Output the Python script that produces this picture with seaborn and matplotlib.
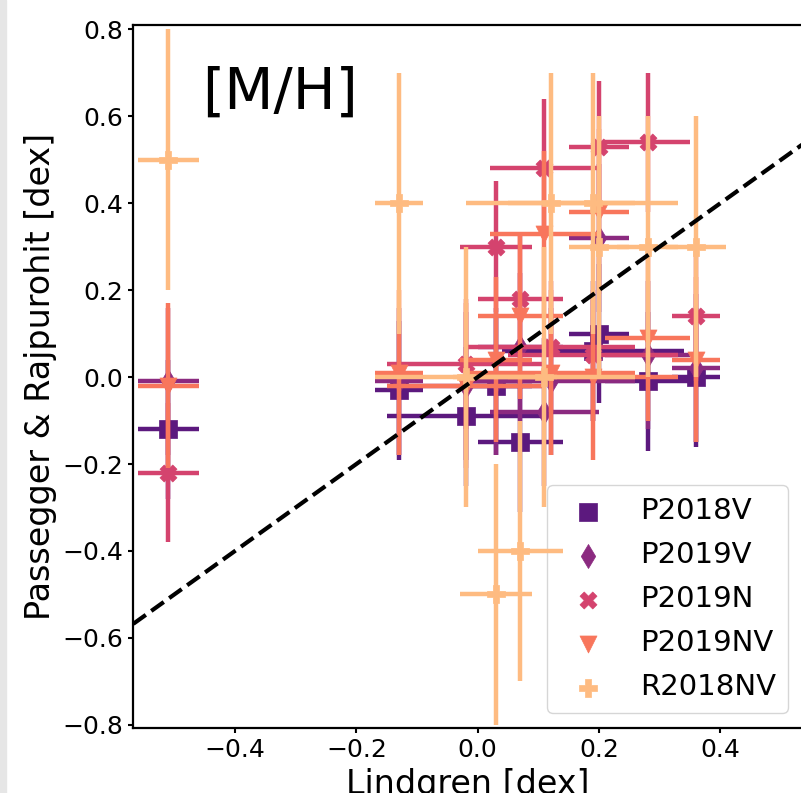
import numpy as np
import pandas as pd
import matplotlib
matplotlib.use("Agg")
import matplotlib.pyplot as plt
import seaborn as sns
from matplotlib.patches import Rectangle

# ==========================
# Data (Lindgren vs Passegger & Rajpurohit, [M/H])
# ==========================

series_names = ["P2018V", "P2019V", "P2019N", "P2019NV", "R2018NV"]
series_markers = ["s", "d", "X", "v", "P"]
series_colors = ["#5c197e", "#8b2a80", "#d4436e", "#f8765c", "#febb81"]

p2018v_x = [-0.51, -0.13, -0.02, 0.03, 0.07, 0.19, 0.20, 0.28, 0.36]
p2018v_y = [-0.12, -0.03, -0.09, -0.02, -0.15, 0.06, 0.10, -0.01, 0.00]
p2018v_xerr = [0.05, 0.04, 0.13, 0.06, 0.07, 0.15, 0.05, 0.07, 0.04]
p2018v_yerr = [0.16, 0.16, 0.16, 0.16, 0.16, 0.16, 0.16, 0.16, 0.16]

p2019v_x = [-0.51, -0.13, -0.02, 0.03, 0.07, 0.11, 0.12, 0.20, 0.28, 0.36]
p2019v_y = [-0.01, -0.01, -0.02, -0.01, 0.07, -0.08, -0.01, 0.32, 0.05, 0.02]
p2019v_xerr = [0.05, 0.04, 0.13, 0.06, 0.07, 0.09, 0.14, 0.05, 0.07, 0.04]
p2019v_yerr = [0.17, 0.17, 0.17, 0.17, 0.17, 0.17, 0.17, 0.17, 0.17, 0.17]

p2019n_x = [-0.51, -0.02, 0.03, 0.07, 0.11, 0.12, 0.19, 0.20, 0.28, 0.36]
p2019n_y = [-0.22, 0.03, 0.30, 0.18, 0.48, 0.07, 0.05, 0.53, 0.54, 0.14]
p2019n_xerr = [0.05, 0.13, 0.06, 0.07, 0.09, 0.14, 0.14, 0.05, 0.07, 0.04]
p2019n_yerr = [0.16, 0.15, 0.15, 0.15, 0.16, 0.15, 0.15, 0.15, 0.16, 0.15]

p2019nv_x = [-0.51, -0.13, -0.02, 0.03, 0.07, 0.11, 0.12, 0.19, 0.20, 0.28, 0.36]
p2019nv_y = [-0.02, 0.01, -0.02, 0.04, 0.14, 0.33, 0.01, 0.00, 0.38, 0.09, 0.04]
p2019nv_xerr = [0.05, 0.04, 0.13, 0.06, 0.07, 0.09, 0.14, 0.14, 0.05, 0.07, 0.04]
p2019nv_yerr = [0.19, 0.19, 0.19, 0.19, 0.19, 0.19, 0.19, 0.19, 0.19, 0.19, 0.19]

r2018nv_x = [-0.51, -0.13, -0.02, 0.03, 0.07, 0.11, 0.12, 0.19, 0.20, 0.28, 0.36]
r2018nv_y = [0.50, 0.40, 0.00, -0.50, -0.40, 0.00, 0.40, 0.40, 0.30, 0.30, 0.30]
r2018nv_xerr = [0.05, 0.04, 0.15, 0.06, 0.07, 0.15, 0.14, 0.14, 0.05, 0.05, 0.05]
r2018nv_yerr = [0.30, 0.30, 0.30, 0.30, 0.30, 0.30, 0.30, 0.30, 0.30, 0.30, 0.30]

all_x = [p2018v_x, p2019v_x, p2019n_x, p2019nv_x, r2018nv_x]
all_y = [p2018v_y, p2019v_y, p2019n_y, p2019nv_y, r2018nv_y]
all_xerr = [p2018v_xerr, p2019v_xerr, p2019n_xerr, p2019nv_xerr, r2018nv_xerr]
all_yerr = [p2018v_yerr, p2019v_yerr, p2019n_yerr, p2019nv_yerr, r2018nv_yerr]

# ==========================
# Figure
# ==========================

fig = plt.figure(figsize=(8.01, 7.93), dpi=100)
ax = fig.add_axes([0.1664, 0.0816, 0.836, 0.8869])

# light grey strip on the left edge of the original screenshot
fig.patches.append(Rectangle((0, 0), 6 / 801, 1, transform=fig.transFigure,
                             color="#e6e6e6", zorder=0))

for i, name in enumerate(series_names):
    df = pd.DataFrame({"x": all_x[i], "y": all_y[i]})
    ax.errorbar(all_x[i], all_y[i], xerr=all_xerr[i], yerr=all_yerr[i],
                fmt="none", ecolor=series_colors[i], elinewidth=3.2,
                capsize=0, zorder=2 + 2 * i)
    sns.scatterplot(data=df, x="x", y="y", marker=series_markers[i],
                    color=series_colors[i], edgecolor=series_colors[i],
                    linewidth=0.5, s=150, label=name,
                    ax=ax, zorder=3 + 2 * i)

ax.axline((0, 0), slope=1, color="black", linestyle="--", linewidth=3,
          zorder=20)

ax.set_xlim(-0.5677, 0.536)
ax.set_ylim(-0.808, 0.81)
ax.set_xticks([-0.4, -0.2, 0.0, 0.2, 0.4])
ax.set_yticks([-0.8, -0.6, -0.4, -0.2, 0.0, 0.2, 0.4, 0.6, 0.8])
ax.tick_params(labelsize=18, width=1.5)
for sp in ax.spines.values():
    sp.set_linewidth(1.6)

ax.set_xlabel("Lindgren [dex]", fontsize=24)
ax.set_ylabel("Passegger & Rajpurohit [dex]", fontsize=24)

ax.text(0.1026, 0.8816, "[M/H]", fontsize=41, transform=ax.transAxes,
        va="baseline", ha="left")

ax.legend(loc="lower right", fontsize=21, labelspacing=0.55,
          framealpha=0.8, borderaxespad=0,
          bbox_to_anchor=(788 / 801, 80 / 793),
          bbox_transform=fig.transFigure)

plt.savefig("out.png", dpi=100)
